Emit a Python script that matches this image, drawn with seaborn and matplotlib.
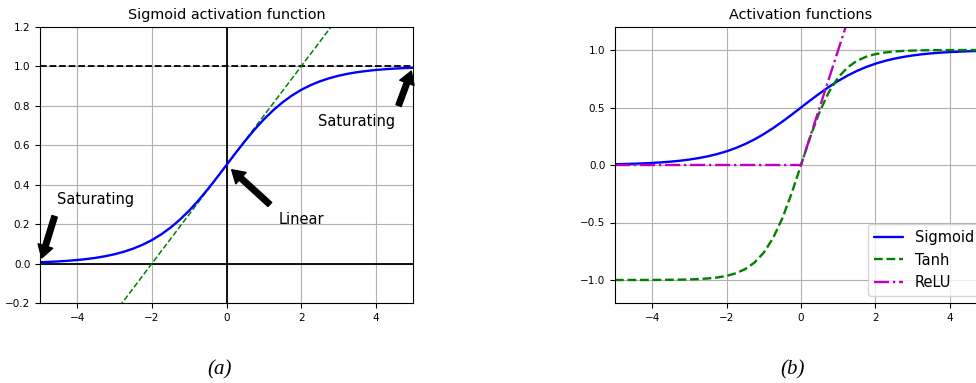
import numpy as np
import pandas as pd
import matplotlib
matplotlib.use("Agg")
import matplotlib.pyplot as plt
import seaborn as sns

x_vals = [-5.0, -4.75, -4.5, -4.25, -4.0, -3.75, -3.5, -3.25, -3.0, -2.75, -2.5,
          -2.25, -2.0, -1.75, -1.5, -1.25, -1.0, -0.75, -0.5, -0.25, 0.0,
          0.25, 0.5, 0.75, 1.0, 1.25, 1.5, 1.75, 2.0, 2.25, 2.5,
          2.75, 3.0, 3.25, 3.5, 3.75, 4.0, 4.25, 4.5, 4.75, 5.0]
sigmoid_vals = [0.0067, 0.0086, 0.0110, 0.0141, 0.0180, 0.0230, 0.0293, 0.0373, 0.0474, 0.0601, 0.0759,
                0.0954, 0.1192, 0.1481, 0.1824, 0.2227, 0.2689, 0.3208, 0.3775, 0.4378, 0.5,
                0.5622, 0.6225, 0.6792, 0.7311, 0.7773, 0.8176, 0.8519, 0.8808, 0.9046, 0.9241,
                0.9399, 0.9526, 0.9627, 0.9707, 0.9770, 0.9820, 0.9859, 0.9890, 0.9914, 0.9933]
tanh_vals = [-0.9999, -0.9999, -0.9998, -0.9996, -0.9993, -0.9989, -0.9982, -0.9970, -0.9951, -0.9919, -0.9866,
             -0.9780, -0.9640, -0.9414, -0.9052, -0.8483, -0.7616, -0.6351, -0.4621, -0.2449, 0.0,
             0.2449, 0.4621, 0.6351, 0.7616, 0.8483, 0.9052, 0.9414, 0.9640, 0.9780, 0.9866,
             0.9919, 0.9951, 0.9970, 0.9982, 0.9989, 0.9993, 0.9996, 0.9998, 0.9999, 0.9999]
relu_x = [-5.0, 0.0, 5.0]
relu_vals = [0.0, 0.0, 5.0]
tangent_x = [-5.0, 5.0]
tangent_y = [-0.75, 1.75]

left_title = "Sigmoid activation function"
right_title = "Activation functions"
series_labels = ["Sigmoid", "Tanh", "ReLU"]
left_xticks = [-4, -2, 0, 2, 4]
left_yticks = [-0.2, 0.0, 0.2, 0.4, 0.6, 0.8, 1.0, 1.2]
right_yticks = [-1.0, -0.5, 0.0, 0.5, 1.0]
captions = ["(a)", "(b)"]

sns.set_theme(style="ticks", color_codes=False)
plt.rcParams["font.family"] = ["DejaVu Sans"]
plt.rcParams["text.color"] = "black"
plt.rcParams["axes.labelcolor"] = "black"
plt.rcParams["xtick.color"] = "black"
plt.rcParams["ytick.color"] = "black"

fig = plt.figure(figsize=(9.76, 3.83), dpi=100)
ax1 = fig.add_axes([40 / 976, 80 / 383, 373 / 976, 276 / 383])
ax2 = fig.add_axes([615 / 976, 80 / 383, 372 / 976, 276 / 383])

for ax in (ax1, ax2):
    ax.grid(True, color="#b0b0b0", linewidth=0.8)
    ax.tick_params(labelsize=7.5, length=3.5, width=0.8, colors="black")
    for s in ax.spines.values():
        s.set_color("black")
        s.set_linewidth(0.8)

# ---- left panel ----
ax1.plot([-5, 5], [0, 0], "k-", lw=1.3)
ax1.plot([-5, 5], [1, 1], "k--", lw=1.3)
ax1.plot([0, 0], [-0.2, 1.2], "k-", lw=1.3)
sns.lineplot(x=tangent_x, y=tangent_y, ax=ax1, color="green", linestyle="--", lw=1.1)
sns.lineplot(x=x_vals, y=sigmoid_vals, ax=ax1, color="blue", lw=1.7)
props = dict(facecolor="black", edgecolor="black", shrink=0.1, width=4, headwidth=11, headlength=9)
ax1.annotate("Saturating", xytext=(3.5, 0.7), xy=(5, 1), arrowprops=props, fontsize=10.5,
             ha="center", color="black")
ax1.annotate("Saturating", xytext=(-3.5, 0.3), xy=(-5, 0), arrowprops=props, fontsize=10.5,
             ha="center", color="black")
ax1.annotate("Linear", xytext=(2, 0.2), xy=(0, 0.5), arrowprops=props, fontsize=10.5,
             ha="center", color="black")
ax1.set_xlim(-5, 5)
ax1.set_ylim(-0.2, 1.2)
ax1.set_xticks(left_xticks)
ax1.set_yticks(left_yticks)
ax1.set_title(left_title, fontsize=10.4, color="black")

# ---- right panel ----
sns.lineplot(x=x_vals, y=sigmoid_vals, ax=ax2, color="blue", lw=1.7, label=series_labels[0])
sns.lineplot(x=x_vals, y=tanh_vals, ax=ax2, color="green", linestyle="--", lw=1.7, label=series_labels[1])
sns.lineplot(x=relu_x, y=relu_vals, ax=ax2, color=(0.75, 0.0, 0.75), linestyle="-.", lw=1.7, label=series_labels[2])
ax2.set_xlim(-5, 5)
ax2.set_ylim(-1.2, 1.2)
ax2.set_xticks(left_xticks)
ax2.set_yticks(right_yticks)
ax2.set_title(right_title, fontsize=10.4, color="black")
ax2.legend(loc="lower right", fontsize=10.5, frameon=True, labelcolor="black")
leg = ax2.get_legend()
leg.get_frame().set_edgecolor("#cccccc")

fig.text(220 / 976, 1 - 370 / 383, captions[0], fontsize=15, family="Liberation Serif",
         style="italic", ha="center", va="center", color="black")
fig.text(793 / 976, 1 - 370 / 383, captions[1], fontsize=15, family="Liberation Serif",
         style="italic", ha="center", va="center", color="black")

fig.savefig("out.png", dpi=100)
